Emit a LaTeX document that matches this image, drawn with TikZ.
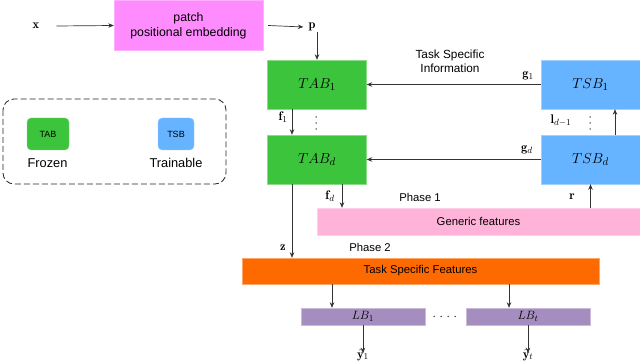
\documentclass[tikz,border=0pt]{standalone}
\usepackage{fontspec}
\newfontfamily\hv{Liberation Sans}
\usetikzlibrary{arrows.meta}
\definecolor{patchc}{HTML}{FF8CFF}
\definecolor{greenc}{HTML}{3CC43C}
\definecolor{bluec}{HTML}{66B3FF}
\definecolor{pinkc}{HTML}{FFB3D9}
\definecolor{orangec}{HTML}{FF6A00}
\definecolor{purplec}{HTML}{A68DBF}
\begin{document}
\begin{tikzpicture}[x=1pt,y=-1pt,
  box/.style={inner sep=0pt, anchor=center},
  mathbox/.style={box, font=\fontsize{15.5}{18}\selectfont},
  lbl/.style={inner sep=1pt, anchor=center, font=\fontsize{12.5}{14}\selectfont},
  txt/.style={inner sep=0pt, anchor=center, font=\hv\fontsize{11.3}{13.5}\selectfont},
  arr/.style={draw=black!80, line width=0.7pt, -{Stealth[length=5.5pt,width=4.5pt]}},
  dotc/.style={fill=black!85, draw=none}
]
\useasboundingbox (0,0) rectangle (640,363);

% top row
\node[lbl] (x) at (36,26) {$\mathbf{x}$};
\node[box, fill=patchc, draw=patchc!70!white, minimum width=149pt, minimum height=50pt,
      align=center, font=\hv\fontsize{12.3}{15}\selectfont] (patch) at (188.5,25.5) {patch\\positional embedding};
\node[lbl] (p) at (312,27) {$\mathbf{p}$};

% TAB blocks
\node[mathbox, fill=greenc, draw=greenc!60!white, minimum width=99pt, minimum height=49pt] (tab1) at (317,84.5) {$TAB_1$};
\node[mathbox, fill=greenc, draw=greenc!60!white, minimum width=99pt, minimum height=49pt] (tabd) at (317,159.5) {$TAB_d$};

% TSB blocks
\node[mathbox, fill=bluec, draw=bluec!60!white, minimum width=99pt, minimum height=49pt] (tsb1) at (590.5,84.5) {$TSB_1$};
\node[mathbox, fill=bluec, draw=bluec!60!white, minimum width=99pt, minimum height=49pt] (tsbd) at (590.5,159.5) {$TSB_d$};

% feature bars
\node[box, fill=pinkc, draw=pinkc!60!white, minimum width=323pt, minimum height=27pt, font=\hv\fontsize{11.3}{13.5}\selectfont] (gen) at (478.5,221.5) {Generic features};
\node[box, fill=orangec, draw=orangec!60!white, minimum width=357pt, minimum height=26pt, font=\hv\fontsize{11.3}{13.5}\selectfont] (tsf) at (420.5,271) {Task Specific Features};

% LB blocks
\node[box, fill=purplec, draw=purplec!60!white, minimum width=124pt, minimum height=17pt, font=\fontsize{13}{15}\selectfont] (lb1) at (363,316.5) {$LB_1$};
\node[box, fill=purplec, draw=purplec!60!white, minimum width=124pt, minimum height=17pt, font=\fontsize{13}{15}\selectfont] (lbt) at (528,316.5) {$LB_t$};
\foreach \dx in {434,441,448,455} \fill[dotc] (\dx,316.5) circle (0.75pt);

\node[lbl] (y1) at (363,355) {$\hat{\mathbf{y}}_1$};
\node[lbl] (yt) at (528,355) {$\hat{\mathbf{y}}_t$};

% labels
\node[box, align=center, font=\hv\fontsize{11.8}{14}\selectfont] (tsi) at (450,61.5) {Task Specific\\Information};
\node[lbl] (g1) at (528,76) {$\mathbf{g}_1$};
\node[lbl] (gd) at (527,150) {$\mathbf{g}_d$};
\node[lbl] (ld) at (561,121) {$\mathbf{l}_{d-1}$};
\foreach \dy in {117,123,129} {
  \fill[dotc] (316,\dy) circle (0.75pt);
  \fill[dotc] (590,\dy) circle (0.75pt);
}
\node[lbl] (f1) at (283,117) {$\mathbf{f}_1$};
\node[lbl] (fd) at (330,196) {$\mathbf{f}_d$};
\node[lbl] (z) at (283,248) {$\mathbf{z}$};
\node[lbl] (r) at (572,197) {$\mathbf{r}$};
\node[txt] (ph1) at (420,197) {Phase 1};
\node[txt] (ph2) at (370,247) {Phase 2};

% legend
\draw[black!85, line width=0.85pt, dash pattern=on 6pt off 3pt, rounded corners=11pt] (3,99) rectangle (226,184);
\node[box, fill=greenc, draw=greenc!60!white, rounded corners=4pt, minimum width=42pt, minimum height=32pt, font=\hv\fontsize{9}{11}\selectfont] (ltab) at (48,134) {TAB};
\node[box, fill=bluec, draw=bluec!60!white, rounded corners=4pt, minimum width=36pt, minimum height=32pt, font=\hv\fontsize{9}{11}\selectfont] (ltsb) at (176,134) {TSB};
\node[box, font=\hv\fontsize{12.8}{15}\selectfont] (frozen) at (47.5,163) {Frozen};
\node[box, font=\hv\fontsize{12.8}{15}\selectfont] (train) at (176,163) {Trainable};

% connectors
\draw[arr] ([xshift=16pt]x.east) -- (patch.west);
\draw[arr] ([xshift=5pt]patch.east) -- ([xshift=-4pt]p.west);
\draw[arr] (p.south -| tab1.north) -- (tab1.north);
\draw[arr] (tsb1.west) -- (tab1.east);
\draw[arr] (tsbd.west) -- (tabd.east);
\draw[arr] ([xshift=-25pt]tab1.south) -- ([xshift=-25pt]tabd.north);
\draw[arr] ([xshift=25pt]tabd.south) -- ([xshift=25pt]tabd.south |- gen.north);
\draw[arr] ([xshift=-25pt]tabd.south) -- ([xshift=-25pt]tabd.south |- tsf.north);
\draw[arr] (tsbd.south |- gen.north) -- (tsbd.south);
\draw[arr] ([xshift=24.5pt]tsbd.north) -- ([xshift=24.5pt]tsb1.south);
\draw[arr] ([xshift=-31pt]lb1.north |- tsf.south) -- ([xshift=-31pt]lb1.north);
\draw[arr] ([xshift=-19pt]lbt.north |- tsf.south) -- ([xshift=-19pt]lbt.north);
\draw[arr] (lb1.south) -- ([yshift=-5pt]y1.north);
\draw[arr] (lbt.south) -- ([yshift=-5pt]yt.north);
\end{tikzpicture}
\end{document}
